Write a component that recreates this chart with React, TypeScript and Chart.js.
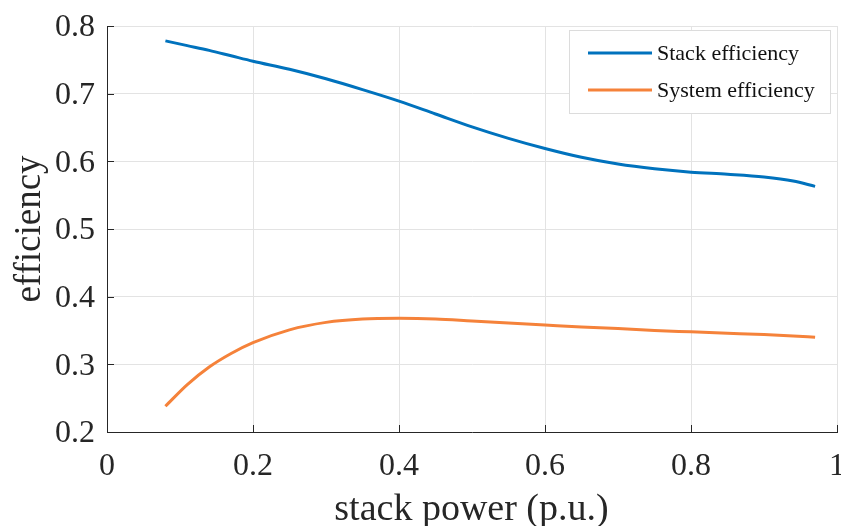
import React, { useEffect, useRef } from "react";
import { Chart, registerables } from "chart.js";

Chart.register(...registerables);

const xPower = [0.08, 0.11, 0.14, 0.17, 0.2, 0.25, 0.3, 0.35, 0.4, 0.45, 0.5, 0.55, 0.6, 0.65, 0.7, 0.75, 0.8, 0.85, 0.9, 0.94, 0.97];
const stackEff = [0.778, 0.771, 0.764, 0.756, 0.748, 0.736, 0.722, 0.706, 0.689, 0.670, 0.651, 0.634, 0.619, 0.606, 0.596, 0.589, 0.584, 0.581, 0.577, 0.571, 0.563];
const systemEff = [0.238, 0.270, 0.296, 0.316, 0.332, 0.351, 0.362, 0.367, 0.368, 0.367, 0.364, 0.361, 0.358, 0.355, 0.353, 0.350, 0.348, 0.346, 0.344, 0.342, 0.340];
const seriesNames = ["Stack efficiency", "System efficiency"];
const seriesColors = ["#0072BD", "#F5823A"];
const xTitle = "stack power (p.u.)";
const yTitle = "efficiency";

const SERIF = "'Liberation Serif', 'Times New Roman', serif";
const AXIS = "#262626";

const overlay = {
  id: "matlabOverlay",
  afterDraw(chart: any) {
    const ctx = chart.ctx;
    const { left, right, top, bottom } = chart.chartArea;
    const xs = chart.scales.x;
    const ys = chart.scales.y;
    ctx.save();
    // inward ticks
    ctx.strokeStyle = AXIS;
    ctx.lineWidth = 1;
    ctx.beginPath();
    xs.ticks.forEach((t: any) => {
      const px = Math.round(xs.getPixelForValue(t.value)) + 0.5;
      ctx.moveTo(px, bottom);
      ctx.lineTo(px, bottom - 7);
    });
    ys.ticks.forEach((t: any) => {
      const py = Math.round(ys.getPixelForValue(t.value)) + 0.5;
      ctx.moveTo(left, py);
      ctx.lineTo(left + 7, py);
    });
    ctx.stroke();
    // axis titles
    ctx.fillStyle = AXIS;
    ctx.font = `38px ${SERIF}`;
    ctx.textAlign = "center";
    ctx.textBaseline = "alphabetic";
    ctx.fillText(xTitle, (left + right) / 2 - 0.5, 520);
    ctx.save();
    ctx.translate(30, 229);
    ctx.rotate(-Math.PI / 2);
    ctx.textBaseline = "middle";
    ctx.font = `37px ${SERIF}`;
    ctx.fillText(yTitle, 0, 0);
    ctx.restore();
    // legend
    const lx = 569, ly = 30, lw = 261, lh = 83;
    ctx.fillStyle = "#ffffff";
    ctx.fillRect(lx, ly, lw, lh);
    ctx.strokeStyle = "#dcdcdc";
    ctx.lineWidth = 1;
    ctx.strokeRect(lx + 0.5, ly + 0.5, lw, lh);
    ctx.font = `22px ${SERIF}`;
    ctx.textAlign = "left";
    ctx.textBaseline = "middle";
    const rows = [53, 90];
    seriesNames.forEach((name, i) => {
      ctx.strokeStyle = seriesColors[i];
      ctx.lineWidth = 3;
      ctx.beginPath();
      ctx.moveTo(588, rows[i]);
      ctx.lineTo(652, rows[i]);
      ctx.stroke();
      ctx.fillStyle = "#111111";
      ctx.fillText(name, 657, rows[i] + 1);
    });
    ctx.restore();
  },
};

export default function App() {
  const ref = useRef<HTMLCanvasElement>(null);
  useEffect(() => {
    if (!ref.current) return;
    const chart = new Chart(ref.current, {
      type: "line",
      data: {
        datasets: [
          {
            label: seriesNames[0],
            data: xPower.map((x, i) => ({ x, y: stackEff[i] })),
            borderColor: seriesColors[0],
            borderWidth: 3,
            pointRadius: 0,
            cubicInterpolationMode: "monotone",
            fill: false,
          },
          {
            label: seriesNames[1],
            data: xPower.map((x, i) => ({ x, y: systemEff[i] })),
            borderColor: seriesColors[1],
            borderWidth: 3,
            pointRadius: 0,
            cubicInterpolationMode: "monotone",
            fill: false,
          },
        ],
      },
      options: {
        animation: false,
        responsive: false,
        maintainAspectRatio: false,
        layout: { padding: { left: 0, top: 26, right: 4, bottom: 0 } },
        plugins: { legend: { display: false }, tooltip: { enabled: false } },
        scales: {
          x: {
            type: "linear",
            min: 0,
            max: 1,
            afterFit: (s: any) => {
              s.height = 94;
              s.paddingLeft = 0;
              s.paddingRight = 0;
            },
            ticks: {
              stepSize: 0.2,
              padding: 15,
              color: AXIS,
              font: { family: SERIF, size: 32 },
              maxRotation: 0,
              callback: (v: any) => String(Math.round(v * 10) / 10),
            },
            grid: { color: "#e3e3e3", drawTicks: false, lineWidth: 1 },
            border: { display: true, color: AXIS, width: 1 },
          },
          y: {
            type: "linear",
            min: 0.2,
            max: 0.8,
            afterFit: (s: any) => {
              s.width = 107;
              s.paddingTop = 0;
              s.paddingBottom = 0;
            },
            ticks: {
              stepSize: 0.1,
              padding: 12,
              labelOffset: 2,
              color: AXIS,
              font: { family: SERIF, size: 32 },
              callback: (v: any) => String(Math.round(v * 10) / 10),
            },
            grid: { color: "#e3e3e3", drawTicks: false, lineWidth: 1 },
            border: { display: true, color: AXIS, width: 1 },
          },
        },
      },
      plugins: [overlay],
    });
    return () => chart.destroy();
  }, []);
  return (
    <div style={{ position: "fixed", left: 0, top: 0, width: 841, height: 526, background: "#fff" }}>
      <canvas ref={ref} width={841} height={526} style={{ width: 841, height: 526, display: "block" }} />
    </div>
  );
}
